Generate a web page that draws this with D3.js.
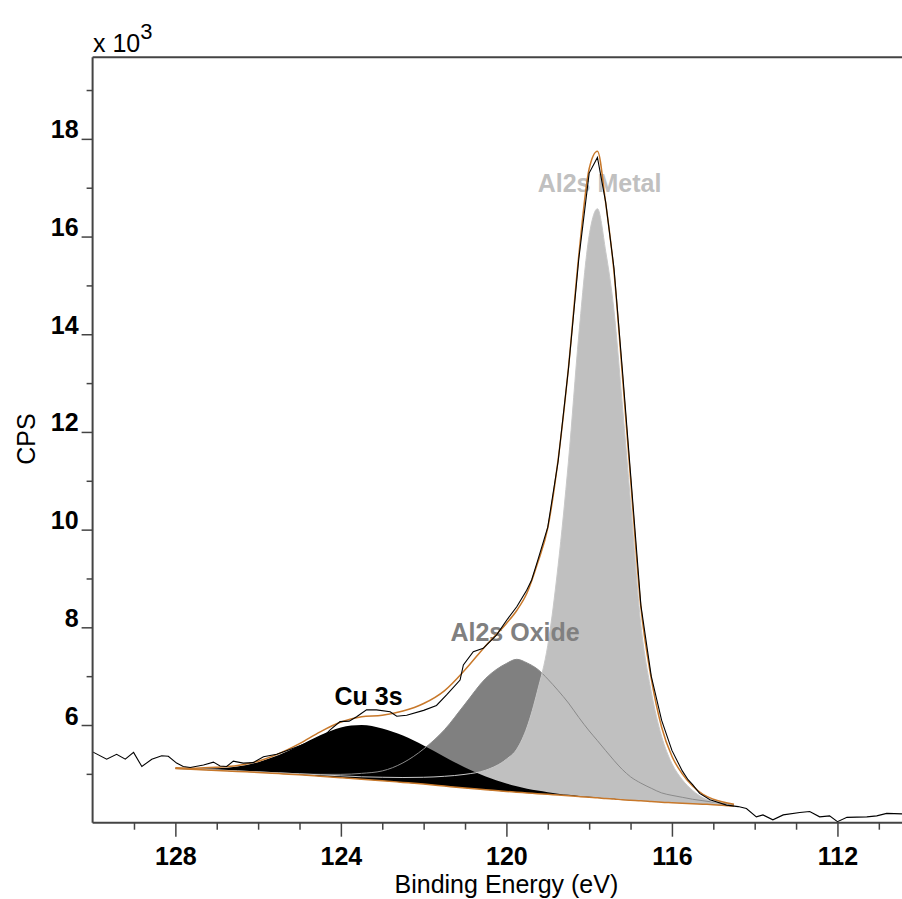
<!DOCTYPE html>
<html>
<head>
<meta charset="utf-8">
<script src="https://cdn.jsdelivr.net/npm/d3@7"></script>
<style>
  html, body { margin: 0; padding: 0; background: #fff; }
  svg { display: block; font-family: "Liberation Sans", Arial, sans-serif; }
</style>
</head>
<body>
<svg id="chart" width="902" height="899"></svg>
<script>
// ---- Fit grid (binding energy, eV) ----
const energy = [128,127.5,127,126.5,126,125.5,125,124.5,124,123.5,123,122.5,122,121.5,121,120.5,120,119.75,119.5,119.25,119,118.75,118.5,118.25,118,117.8,117.6,117.4,117.2,117,116.75,116.5,116.25,116,115.75,115.5,115.25,115,114.5];

// Shirley-type background (CPS x 10^3)
const background = [5.11,5.09,5.07,5.05,5.03,5.005,4.98,4.95,4.92,4.89,4.86,4.825,4.79,4.75,4.71,4.675,4.64,4.625,4.61,4.595,4.58,4.565,4.55,4.535,4.52,4.51,4.495,4.485,4.47,4.46,4.45,4.435,4.42,4.41,4.40,4.39,4.38,4.37,4.34];

// Component heights above background (CPS x 10^3)
const cu3s = [0.006,0.017,0.045,0.10,0.21,0.38,0.60,0.84,1.03,1.11,1.07,0.96,0.79,0.60,0.42,0.27,0.16,0.12,0.087,0.062,0.044,0.03,0.02,0.013,0.009,0.006,0.004,0.003,0.002,0.001,0,0,0,0,0,0,0,0,0];
const al2sOxide = [0,0,0.01,0.01,0.01,0.015,0.02,0.04,0.07,0.12,0.20,0.40,0.72,1.15,1.72,2.28,2.62,2.72,2.66,2.55,2.36,2.14,1.90,1.62,1.36,1.17,0.98,0.79,0.62,0.48,0.36,0.27,0.19,0.15,0.12,0.09,0.07,0.05,0.03];
const al2sMetal = [0.01,0.01,0.01,0.01,0.01,0.015,0.02,0.03,0.04,0.05,0.07,0.10,0.14,0.20,0.28,0.40,0.66,0.88,1.35,2.1,3.05,4.7,6.85,9.45,11.5,12.06,11.2,10.0,8.1,6.1,3.6,2.25,1.35,0.8,0.48,0.27,0.13,0.06,0.01];

// Measured spectrum
const rawEnergy = [130.0,129.66,129.42,129.21,129.01,128.81,128.57,128.33,128.17,127.97,127.81,127.64,127.32,127.08,126.92,126.76,126.6,126.36,126.12,125.87,125.55,125.23,124.91,124.58,124.4,124.26,124.02,123.8,123.62,123.38,123.14,122.81,122.65,122.41,122.0,121.69,121.44,121.12,121.04,120.8,120.56,120.24,119.99,119.75,119.51,119.39,119.25,119.0,118.75,118.5,118.25,118.0,117.8,117.6,117.4,117.2,117.0,116.75,116.5,116.25,116.0,115.75,115.61,115.5,115.33,115.08,114.68,114.4,114.2,113.96,113.8,113.56,113.31,112.91,112.67,112.43,112.19,112.0,111.77,111.29,111.05,110.81,110.44];
const rawCps = [5.45,5.30,5.40,5.30,5.44,5.15,5.30,5.37,5.36,5.22,5.15,5.13,5.18,5.24,5.16,5.15,5.26,5.22,5.23,5.35,5.40,5.50,5.60,5.73,5.78,5.90,6.07,6.08,6.17,6.31,6.31,6.27,6.18,6.20,6.30,6.40,6.62,6.92,7.23,7.50,7.57,7.84,8.15,8.42,8.76,8.97,9.35,10.05,11.4,13.3,15.55,17.3,17.62,16.7,15.35,13.3,11.15,8.45,7.0,6.1,5.48,5.06,4.88,4.78,4.6,4.47,4.36,4.33,4.29,4.12,4.16,4.06,4.16,4.21,4.23,4.12,4.14,4.02,4.11,4.12,4.14,4.19,4.18];

// Axis ticks
const xMajorTicks = [128,124,120,116,112];
const xMinorTicks = [129,127,126,125,123,122,121,119,118,117,115,114,113,111];
const yMajorTicks = [6,8,10,12,14,16,18];
const yMinorTicks = [5,7,9,11,13,15,17,19];

// Annotations
const labels = [
  {text: "Al2s Metal", e: 117.75, v: 16.91, color: "#c0c0c0"},
  {text: "Al2s Oxide", e: 119.79, v: 7.72, color: "#808080"},
  {text: "Cu 3s", e: 123.33, v: 6.41, color: "#000000"}
];

// ---- Drawing ----
const svg = d3.select("#chart");
const pLeft = 92.6, pRight = 902, pTop = 57.3, pBottom = 822.7;
const x = d3.scaleLinear().domain([130, 110.44]).range([pLeft, pRight]);
const y = d3.scaleLinear().domain([4, 19.67]).range([pBottom, pTop]);

svg.append("defs").append("clipPath").attr("id", "plot")
  .append("rect").attr("x", pLeft).attr("y", pTop).attr("width", pRight - pLeft).attr("height", pBottom - pTop);

const fit = energy.map((e, i) => ({
  e, bg: background[i], cu: cu3s[i], ox: al2sOxide[i], m: al2sMetal[i],
  env: background[i] + cu3s[i] + al2sOxide[i] + al2sMetal[i]
}));
const raw = rawEnergy.map((e, i) => ({e, v: rawCps[i]}));

const curve = d3.curveMonotoneX;
function compArea(key) {
  return d3.area().curve(curve).x(d => x(d.e)).y0(d => y(d.bg)).y1(d => y(d.bg + d[key]));
}
function compLine(key) {
  return d3.line().curve(curve).x(d => x(d.e)).y(d => y(d.bg + d[key]));
}

const g = svg.append("g").attr("clip-path", "url(#plot)");

// fills
g.append("path").datum(fit).attr("d", compArea("ox")).attr("fill", "#808080");
g.append("path").datum(fit).attr("d", compArea("m")).attr("fill", "#c0c0c0");
g.append("path").datum(fit).attr("d", compArea("cu")).attr("fill", "#000000");

// component outlines
g.append("path").datum(fit).attr("d", compLine("ox")).attr("fill", "none").attr("stroke", "#8a8a8a").attr("stroke-width", 1);
g.append("path").datum(fit).attr("d", compLine("m")).attr("fill", "none").attr("stroke", "#c8c8c8").attr("stroke-width", 1);

// Labels (over fills, under the lines)
svg.append("g").selectAll("text").data(labels).join("text")
  .attr("x", d => x(d.e)).attr("y", d => y(d.v))
  .attr("text-anchor", "middle")
  .attr("font-size", 25).attr("font-weight", "bold")
  .attr("fill", d => d.color).text(d => d.text);

const g2 = svg.append("g").attr("clip-path", "url(#plot)");
// background & envelope
g2.append("path").datum(fit)
  .attr("d", d3.line().curve(curve).x(d => x(d.e)).y(d => y(d.bg)))
  .attr("fill", "none").attr("stroke", "#c8782a").attr("stroke-width", 1.5);
g2.append("path").datum(fit)
  .attr("d", d3.line().curve(curve).x(d => x(d.e)).y(d => y(d.env)))
  .attr("fill", "none").attr("stroke", "#c8782a").attr("stroke-width", 1.5);

// raw data
g2.append("path").datum(raw)
  .attr("d", d3.line().x(d => x(d.e)).y(d => y(d.v)))
  .attr("fill", "none").attr("stroke", "#000").attr("stroke-width", 1.1);

// ---- Axes ----
const axisColor = "#444";
svg.append("line").attr("x1", pLeft).attr("x2", pRight).attr("y1", pTop).attr("y2", pTop).attr("stroke", axisColor).attr("stroke-width", 2);
svg.append("line").attr("x1", pLeft).attr("x2", pLeft).attr("y1", pTop).attr("y2", pBottom).attr("stroke", axisColor).attr("stroke-width", 2);
svg.append("line").attr("x1", pLeft).attr("x2", pRight).attr("y1", pBottom).attr("y2", pBottom).attr("stroke", axisColor).attr("stroke-width", 2);

// y axis
const yAxisMajor = d3.axisLeft(y).tickValues(yMajorTicks).tickSize(11).tickPadding(3).tickFormat(d3.format("d"));
const ya = svg.append("g").attr("transform", `translate(${pLeft},0)`).call(yAxisMajor);
ya.select(".domain").remove();
ya.selectAll(".tick line").attr("stroke", axisColor).attr("stroke-width", 1.5);
ya.selectAll(".tick text").attr("font-size", 25).attr("font-weight", "bold").attr("fill", "#000")
  .attr("font-family", "Liberation Sans, Arial, sans-serif")
  .attr("dy", null).attr("y", -1);
const yAxisMinor = d3.axisLeft(y).tickValues(yMinorTicks).tickSize(6).tickFormat("");
const ym = svg.append("g").attr("transform", `translate(${pLeft},0)`).call(yAxisMinor);
ym.select(".domain").remove();
ym.selectAll(".tick line").attr("stroke", axisColor).attr("stroke-width", 1.5);

// x axis
const xAxisMajor = d3.axisBottom(x).tickValues(xMajorTicks).tickSize(14).tickPadding(8).tickFormat(d3.format("d"));
const xa = svg.append("g").attr("transform", `translate(0,${pBottom})`).call(xAxisMajor);
xa.select(".domain").remove();
xa.selectAll(".tick line").attr("stroke", axisColor).attr("stroke-width", 1.5);
xa.selectAll(".tick text").attr("font-size", 25).attr("font-weight", "bold").attr("fill", "#000")
  .attr("font-family", "Liberation Sans, Arial, sans-serif")
  .attr("dy", null).attr("y", 42);
const xAxisMinor = d3.axisBottom(x).tickValues(xMinorTicks).tickSize(7).tickFormat("");
const xm = svg.append("g").attr("transform", `translate(0,${pBottom})`).call(xAxisMinor);
xm.select(".domain").remove();
xm.selectAll(".tick line").attr("stroke", axisColor).attr("stroke-width", 1.5);

// axis titles
svg.append("text").attr("x", x(120)).attr("y", 893).attr("text-anchor", "middle")
  .attr("font-size", 25).attr("fill", "#000").text("Binding Energy (eV)");
svg.append("text").attr("transform", `translate(35,${(pTop + pBottom) / 2 - 1}) rotate(-90)`)
  .attr("text-anchor", "middle").attr("font-size", 25).attr("fill", "#000").text("CPS");

// multiplier
const mult = svg.append("text").attr("x", 93).attr("y", 52).attr("font-size", 25).attr("fill", "#000");
mult.append("tspan").text("x 10");
mult.append("tspan").attr("font-size", 22).attr("dy", -13).text("3");
</script>
</body>
</html>
